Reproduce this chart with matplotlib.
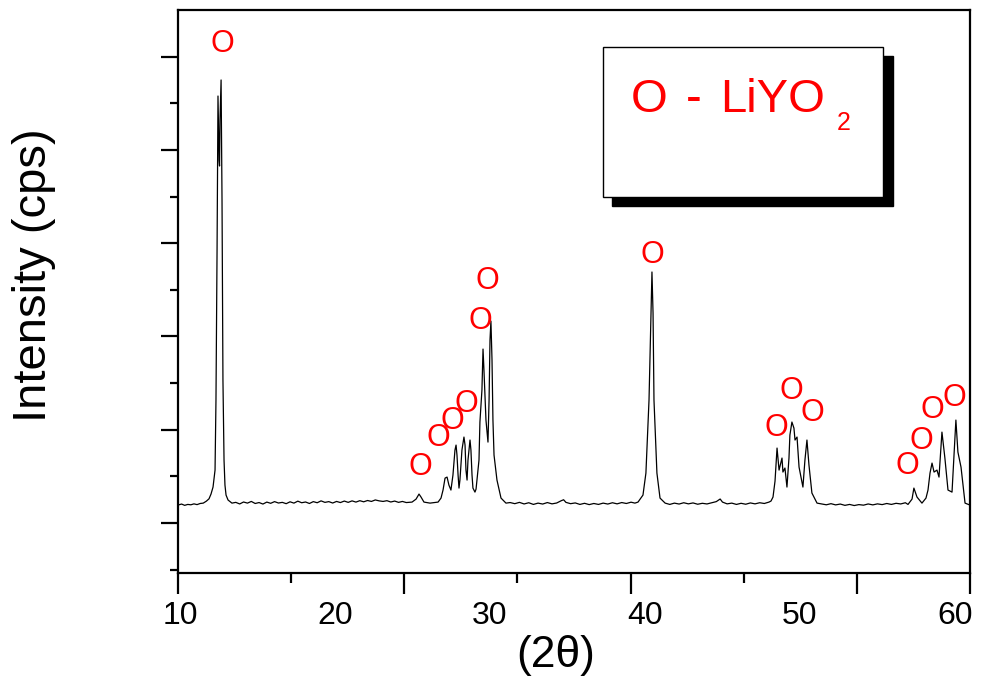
import matplotlib
matplotlib.use("Agg")
import matplotlib.pyplot as plt
import numpy as np
from matplotlib.patches import Rectangle

plt.rcParams['font.family'] = ['Liberation Sans', 'DejaVu Sans']

# ---------------- data ----------------
two_theta = [
    9.87, 10.1, 10.3, 10.5, 10.7, 10.9, 11.1, 11.3, 11.5, 11.7, 11.87, 12.0, 12.13, 12.26, 12.32, 12.39,
    12.45, 12.52, 12.55, 12.58, 12.65, 12.71, 12.77, 12.84, 12.90, 12.97, 13.10, 13.35,
    13.6, 13.85, 14.1, 14.35, 14.6, 14.85, 15.1, 15.35, 15.6, 15.85, 16.1, 16.35, 16.6, 16.85, 17.1, 17.35,
    17.6, 17.85, 18.1, 18.35, 18.6, 18.85, 19.1, 19.35, 19.6, 19.85, 20.1, 20.35, 20.6, 20.85, 21.1, 21.35,
    21.6, 21.85, 22.1, 22.35, 22.6, 22.85, 23.1, 23.35, 23.6, 23.85, 24.1, 24.35, 24.6, 24.97,
    25.23, 25.42, 25.55, 25.74, 26.13, 26.65, 26.84, 26.97, 27.10, 27.23, 27.35, 27.48, 27.61, 27.74, 27.81,
    27.87, 27.94, 28.00, 28.06, 28.19, 28.32, 28.39, 28.45, 28.52, 28.58, 28.71, 28.77, 28.84, 28.90, 29.03,
    29.10, 29.29, 29.35, 29.48, 29.55, 29.61, 29.74, 29.87, 29.94, 30.00, 30.06, 30.13, 30.19, 30.26, 30.45,
    30.71, 31.03,
    31.3, 31.6, 31.9, 32.2, 32.5, 32.8, 33.1, 33.4, 33.7, 34.0, 34.3, 34.6, 34.75, 34.9, 35.2, 35.5, 35.8,
    36.1, 36.4, 36.7, 37.0, 37.3, 37.6, 37.9, 38.2, 38.5, 38.8, 39.1, 39.35,
    39.55, 39.87, 40.06, 40.26, 40.39, 40.45, 40.52, 40.58, 40.77, 40.97, 41.3,
    41.6, 41.9, 42.2, 42.5, 42.8, 43.1, 43.4, 43.7, 44.0, 44.3, 44.6, 44.85, 45.0, 45.3, 45.6, 45.9, 46.2,
    46.5, 46.8, 47.1, 47.4, 47.7, 48.0,
    48.13, 48.26, 48.39, 48.52, 48.65, 48.84, 48.90, 49.03, 49.16, 49.29, 49.35, 49.48, 49.61, 49.68, 49.81,
    49.94, 50.19, 50.32, 50.45, 50.58, 50.77, 51.10,
    51.4, 51.7, 52.0, 52.3, 52.6, 52.9, 53.2, 53.5, 53.8, 54.1, 54.4, 54.7, 55.0, 55.3, 55.6, 55.9, 56.2,
    56.5, 56.8,
    56.97, 57.23, 57.35, 57.55, 57.87, 58.13, 58.26, 58.39, 58.52, 58.65, 58.84, 58.97, 59.16, 59.35, 59.55,
    59.81, 59.94, 60.06, 60.19, 60.39, 60.65, 60.97,
]
intensity = [
    193, 204, 190, 200, 196, 206, 198, 210, 214, 235, 260, 311, 386, 568, 1318, 2927,
    4577, 3891, 3827, 4320, 4749, 3463, 1533, 675, 407, 300, 247, 214,
    222, 205, 226, 214, 232, 210, 220, 204, 225, 212, 230, 215, 222, 208, 228, 214,
    235, 218, 226, 210, 230, 218, 238, 222, 230, 215, 232, 220, 236, 222, 238, 225,
    240, 228, 242, 232, 248, 238, 232, 240, 226, 236, 222, 232, 220, 225,
    257, 311, 279, 225, 214, 225, 268, 354, 482, 493, 407, 354, 515, 783, 836,
    729, 515, 375, 461, 783, 922, 836, 568, 461, 675, 890, 783, 515, 375, 332,
    364, 675, 1083, 1426, 1865, 1640, 1104, 868, 1319, 1962, 2165, 1747, 1104, 729, 461,
    268, 214,
    220, 208, 222, 205, 218, 200, 214, 204, 220, 206, 215, 240, 250, 222, 208, 216, 200,
    212, 198, 210, 200, 214, 204, 218, 206, 220, 210, 224, 214,
    225, 300, 536, 1319, 2250, 2691, 2250, 1319, 536, 268, 214,
    200, 214, 204, 218, 206, 216, 202, 212, 205, 218, 230, 258, 225, 206, 214, 200, 212,
    202, 216, 206, 218, 210, 225,
    236, 279, 450, 804, 568, 697, 547, 590, 386, 697, 943, 1083, 1018, 890, 922,
    600, 386, 675, 890, 622, 322, 214,
    205, 196, 208, 195, 204, 190, 200, 188, 198, 192, 205, 195, 206, 198, 210, 200, 212,
    205, 218,
    200, 257, 375, 279, 214, 268, 354, 536, 643, 547, 568, 493, 975, 697, 354,
    332, 729, 1104, 761, 600, 214, 193,
]

# peak markers (LiYO2 reflections)
marker_x = [12.71, 25.48, 26.65, 27.55, 28.45, 29.35, 29.81, 40.45, 48.45, 49.42, 50.77, 56.90, 57.81, 58.52, 59.94]
marker_y = [5135, 600, 911, 1093, 1276, 2165, 2594, 2873, 1018, 1415, 1179, 611, 879, 1211, 1340]

x_tick_values = [10, 20, 30, 40, 50, 60]
x_tick_labels = ["10", "20", "30", "40", "50", "60"]

# ---------------- figure ----------------
W, H = 987, 678
fig = plt.figure(figsize=(W / 100, H / 100), dpi=100)
ax = fig.add_axes([178 / W, 1 - 573 / H, (970 - 178) / W, (573 - 10) / H])

ax.plot(two_theta, intensity, color="black", lw=0.9)

xmin, xmax = 9.87, 60.97
ax.set_xlim(xmin, xmax)
ax.set_ylim(-535, 5499)

for s in ax.spines.values():
    s.set_linewidth(1.6)

# x tick marks (evenly spaced, alternating long/short)
tick_pos = np.linspace(xmin, xmax, 8)
ax.set_xticks(tick_pos[[0, 2, 4, 6, 7]])
ax.set_xticks(tick_pos[[1, 3, 5]], minor=True)
ax.tick_params(axis="x", which="major", length=15, width=1.6, labelbottom=False, direction="out")
ax.tick_params(axis="x", which="minor", length=7, width=1.6, direction="out")

# y tick marks, no labels
ax.set_yticks(np.arange(0, 5001, 1000))
ax.set_yticks(np.arange(-500, 4600, 1000), minor=True)
ax.tick_params(axis="y", which="major", length=12, width=1.6, labelleft=False, direction="out")
ax.tick_params(axis="y", which="minor", length=6, width=1.6, direction="out")

# tick labels on a secondary axis
sec = ax.secondary_xaxis("bottom")
sec.set_xticks(x_tick_values)
sec.set_xticklabels(x_tick_labels, fontsize=23)
sec.tick_params(length=0, pad=20)
sec.spines["bottom"].set_visible(False)

fig.text(556 / W, 1 - 655 / H, "(2θ)", fontsize=32, ha="center", va="center")
fig.text(34 / W, 1 - 275 / H, "Intensity (cps)", fontsize=34, rotation=90, ha="center", va="center")

# peak markers
for mx, my in zip(marker_x, marker_y):
    ax.text(mx, my, "O", color="red", fontsize=22, ha="center", va="center")

# legend box with shadow
fig.patches.append(Rectangle((612 / W, 1 - 206 / H), (893 - 612) / W, (206 - 56) / H,
                             transform=fig.transFigure, facecolor="black", edgecolor="black", zorder=5))
fig.patches.append(Rectangle((603 / W, 1 - 197 / H), (883 - 603) / W, (197 - 47) / H,
                             transform=fig.transFigure, facecolor="white", edgecolor="black", lw=1.0, zorder=6))
fig.text(631 / W, 1 - 112 / H, "O", color="red", fontsize=34, ha="left", va="baseline", zorder=7)
fig.text(694 / W, 1 - 112 / H, "-", color="red", fontsize=34, ha="center", va="baseline", zorder=7)
fig.text(720 / W, 1 - 112 / H, "LiYO", color="red", fontsize=34, ha="left", va="baseline", zorder=7)
fig.text(837 / W, 1 - 130 / H, "2", color="red", fontsize=18, ha="left", va="baseline", zorder=7)

fig.savefig("out.png", dpi=100)
